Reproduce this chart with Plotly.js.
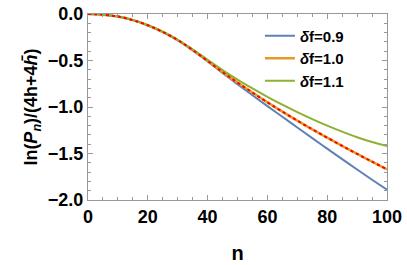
<!DOCTYPE html>
<html>
<head>
<meta charset="utf-8">
<script src="https://cdn.plot.ly/plotly-3.0.1.min.js"></script>
<style>
  html, body { margin: 0; padding: 0; background: #fff; }
  #myGraph { width: 407px; height: 265px; }
</style>
</head>
<body>
<div id="myGraph"></div>
<script>
// data
let n = [0, 5, 10, 15, 20, 25, 30, 35, 40, 45, 50, 55, 60, 65, 70, 75, 80, 85, 90, 95, 100];
let df09 = [0, -0.007, -0.028, -0.066, -0.122, -0.195, -0.285, -0.392, -0.51, -0.635, -0.755, -0.873, -0.99, -1.105, -1.22, -1.335, -1.448, -1.56, -1.672, -1.782, -1.89];
let df10 = [0, -0.007, -0.028, -0.066, -0.121, -0.193, -0.28, -0.387, -0.505, -0.625, -0.737, -0.845, -0.95, -1.05, -1.147, -1.24, -1.33, -1.418, -1.505, -1.588, -1.67];
let df11 = [0, -0.007, -0.028, -0.065, -0.12, -0.19, -0.277, -0.38, -0.492, -0.603, -0.705, -0.80, -0.89, -0.975, -1.055, -1.13, -1.20, -1.265, -1.325, -1.377, -1.42];
let names = ['<i>δ</i>f=0.9', '<i>δ</i>f=1.0', '<i>δ</i>f=1.1'];

let myGraph = document.getElementById('myGraph');

let trace1 = {
    type: 'scatter', mode: 'lines', name: names[0],
    x: n, y: df09,
    line: { color: '#5E81B5', width: 2, shape: 'spline' }
};
let trace2 = {
    type: 'scatter', mode: 'lines', name: names[1],
    x: n, y: df10,
    line: { color: '#E19C24', width: 2.5, shape: 'spline' }
};
let trace3 = {
    type: 'scatter', mode: 'lines', name: names[2],
    x: n, y: df11,
    line: { color: '#8FB032', width: 2, shape: 'spline' }
};
// red dashed curve on top of the δf=1.0 line
let trace4 = {
    type: 'scatter', mode: 'lines', showlegend: false,
    x: n, y: df10,
    line: { color: '#FF0000', width: 2, dash: '3px,3px', shape: 'spline' }
};

let data = [trace1, trace2, trace3, trace4];

let tickFont = { family: 'Liberation Sans, Arial, sans-serif', size: 18, color: '#000', weight: 'bold' };

let layout = {
    width: 407,
    height: 265,
    margin: { l: 88, r: 20, t: 14, b: 65 },
    paper_bgcolor: '#fff',
    plot_bgcolor: '#fff',
    showlegend: true,
    legend: {
        x: 0.575, y: 0.97, xanchor: 'left', yanchor: 'top',
        bgcolor: 'rgba(0,0,0,0)',
        font: { family: 'Liberation Sans, Arial, sans-serif', size: 15, color: '#000', weight: 'bold' },
        tracegroupgap: 0
    },
    xaxis: {
        range: [0, 100],
        dtick: 20,
        showgrid: false, zeroline: false,
        showline: true, mirror: 'ticks', linecolor: '#999', linewidth: 1,
        ticks: 'inside', ticklen: 5, tickcolor: '#999',
        minor: { dtick: 5, ticks: 'inside', ticklen: 3, tickcolor: '#999', showgrid: false },
        tickfont: tickFont,
        title: { text: '<b>n</b>', font: { family: 'Liberation Sans, Arial, sans-serif', size: 20, color: '#000' }, standoff: 20 }
    },
    yaxis: {
        range: [-2, 0],
        dtick: 0.5,
        tickformat: '.1f',
        showgrid: false, zeroline: false,
        showline: true, mirror: 'ticks', linecolor: '#999', linewidth: 1,
        ticks: 'inside', ticklen: 5, tickcolor: '#999',
        minor: { dtick: 0.1, ticks: 'inside', ticklen: 3, tickcolor: '#999', showgrid: false },
        tickfont: tickFont,
        title: { text: '<b>ln(<i>P</i><sub><i>n</i></sub>)/(4h+4<i>h̄</i>)</b>', font: { family: 'Liberation Sans, Arial, sans-serif', size: 18, color: '#000' }, standoff: 5 }
    }
};

Plotly.newPlot(myGraph, data, layout, { displayModeBar: false, staticPlot: true });
</script>
</body>
</html>
